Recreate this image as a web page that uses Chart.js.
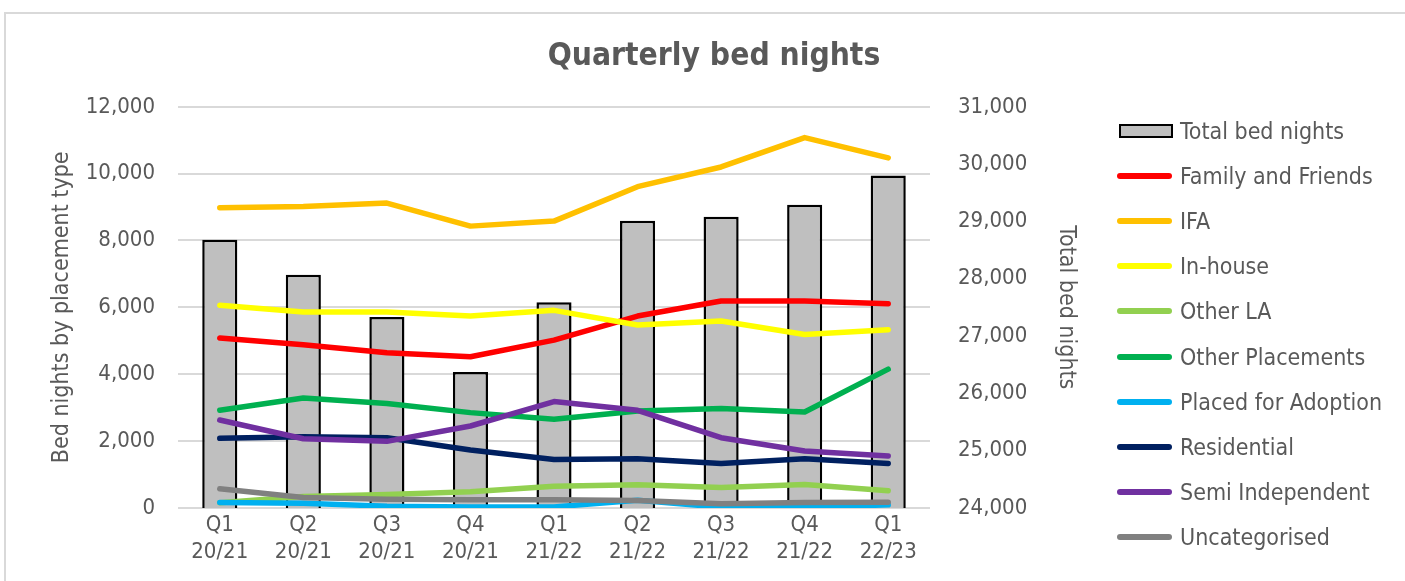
<!DOCTYPE html>
<html lang="en">
<head>
    <meta charset="UTF-8">
    <title>Quarterly bed nights</title>
    <script src="https://cdn.jsdelivr.net/npm/chart.js"></script>
    <style>
        html, body { margin: 0; padding: 0; background: #fff; overflow: hidden; }
        .frame {
            position: absolute; left: 4px; top: 12px; width: 1420px; height: 600px;
            border-top: 2px solid #d9d9d9; border-left: 2px solid #d9d9d9;
        }
        #chart { position: absolute; left: 6px; top: 15px; }
        #legend {
            position: absolute; left: 1116px; top: 108.5px;
            font-family: 'DejaVu Sans Condensed', 'DejaVu Sans', sans-serif;
            font-size: 23px; color: #595959;
        }
        #legend .item { height: 45.1px; display: flex; align-items: center; white-space: nowrap; }
        #legend .sym { width: 57px; margin-right: 7px; display: flex; align-items: center; justify-content: center; }
        #legend .line { width: 55px; height: 6px; border-radius: 3px; }
        #legend .box { width: 50px; height: 10px; background: #bfbfbf; border: 2px solid #000; margin-left: 3px; }
    </style>
</head>
<body>
    <div class="frame"></div>
    <canvas id="chart" width="1400" height="566"></canvas>
    <div id="legend"></div>
    <script>
        const quarters = ['Q1', 'Q2', 'Q3', 'Q4', 'Q1', 'Q2', 'Q3', 'Q4', 'Q1'];
        const years = ['20/21', '20/21', '20/21', '20/21', '21/22', '21/22', '21/22', '21/22', '22/23'];

        const totalBedNights = [28680, 28070, 27330, 26370, 27590, 29010, 29080, 29290, 29800];
        const familyAndFriends = [5080, 4880, 4640, 4520, 5020, 5740, 6190, 6190, 6110];
        const ifa = [8980, 9020, 9120, 8430, 8580, 9610, 10200, 11080, 10470];
        const inHouse = [6060, 5860, 5860, 5740, 5910, 5470, 5590, 5190, 5330];
        const otherLA = [150, 340, 400, 480, 650, 690, 610, 700, 510];
        const otherPlacements = [2920, 3290, 3120, 2850, 2650, 2900, 2970, 2870, 4150];
        const placedForAdoption = [160, 140, 50, 30, 30, 230, 20, 20, 90];
        const residential = [2080, 2130, 2100, 1730, 1450, 1470, 1330, 1470, 1330];
        const semiIndependent = [2630, 2070, 1990, 2450, 3180, 2920, 2100, 1700, 1550];
        const uncategorised = [570, 310, 260, 240, 240, 220, 120, 160, 170];

        const leftTicks = [0, 2000, 4000, 6000, 8000, 10000, 12000];
        const rightTicks = [24000, 25000, 26000, 27000, 28000, 29000, 30000, 31000];

        const lineSeries = [
            ['Family and Friends', familyAndFriends, '#ff0000'],
            ['IFA', ifa, '#ffc000'],
            ['In-house', inHouse, '#ffff00'],
            ['Other LA', otherLA, '#92d050'],
            ['Other Placements', otherPlacements, '#00b050'],
            ['Placed for Adoption', placedForAdoption, '#00b0f0'],
            ['Residential', residential, '#002060'],
            ['Semi Independent', semiIndependent, '#7030a0'],
            ['Uncategorised', uncategorised, '#808080']
        ];

        Chart.defaults.font.family = "'DejaVu Sans Condensed', 'DejaVu Sans', sans-serif";
        Chart.defaults.color = '#595959';

        const datasets = [{
            type: 'bar',
            label: 'Total bed nights',
            data: totalBedNights,
            yAxisID: 'y1',
            backgroundColor: '#bfbfbf',
            borderColor: '#000000',
            borderWidth: 2.5,
            barPercentage: 0.42,
            categoryPercentage: 1.0,
            order: 20
        }];
        lineSeries.forEach((s, i) => {
            datasets.push({
                type: 'line',
                label: s[0],
                data: s[1],
                yAxisID: 'y',
                borderColor: s[2],
                backgroundColor: s[2],
                borderWidth: 5.5,
                borderJoinStyle: 'round',
                borderCapStyle: 'round',
                pointRadius: 0,
                tension: 0,
                order: 10 - i   // later series drawn on top
            });
        });

        const chart = new Chart(document.getElementById('chart'), {
            data: {
                labels: quarters.map((q, i) => [q, years[i]]),
                datasets: datasets
            },
            options: {
                responsive: false,
                animation: false,
                // right padding kept small so the title centres over the whole picture;
                // the right axis box is widened to leave room for the legend
                layout: { padding: { left: 30, right: 14, top: 0, bottom: 12 } },
                scales: {
                    x: {
                        grid: { display: false, drawTicks: false },
                        border: { display: false },
                        ticks: { padding: 3.5, maxRotation: 0, autoSkip: false, font: { size: 22, lineHeight: 1.23 } }
                    },
                    y: {
                        position: 'left',
                        min: leftTicks[0],
                        max: leftTicks[leftTicks.length - 1],
                        grid: { color: '#d9d9d9', lineWidth: 2, drawTicks: false },
                        border: { display: false },
                        ticks: { stepSize: leftTicks[1] - leftTicks[0], padding: 23, font: { size: 22 } },
                        title: {
                            display: true,
                            text: 'Bed nights by placement type',
                            font: { size: 23 },
                            padding: { top: 12, bottom: 10 }
                        },
                        afterFit(scale) { scale.width = 142; }
                    },
                    y1: {
                        position: 'right',
                        min: rightTicks[0],
                        max: rightTicks[rightTicks.length - 1],
                        grid: { display: false, drawTicks: false },
                        border: { display: false },
                        ticks: { stepSize: rightTicks[1] - rightTicks[0], padding: 28, font: { size: 22 } },
                        title: {
                            display: true,
                            text: 'Total bed nights',
                            font: { size: 23 },
                            padding: { top: 312, bottom: 20 }
                        },
                        afterFit(scale) { scale.width = 462; }
                    }
                },
                plugins: {
                    title: {
                        display: true,
                        text: 'Quarterly bed nights',
                        color: '#595959',
                        font: { size: 31.5, weight: 'bold' },
                        padding: { top: 22.5, bottom: 31.5 }
                    },
                    legend: { display: false },
                    tooltip: { enabled: false }
                }
            }
        });

        // legend built from the chart's datasets, in dataset order
        const legend = document.getElementById('legend');
        chart.data.datasets.forEach(ds => {
            const item = document.createElement('div');
            item.className = 'item';
            const sym = document.createElement('div');
            sym.className = 'sym';
            const mark = document.createElement('div');
            if (ds.type === 'bar') {
                mark.className = 'box';
            } else {
                mark.className = 'line';
                mark.style.background = ds.borderColor;
            }
            sym.appendChild(mark);
            const text = document.createElement('span');
            text.textContent = ds.label;
            item.appendChild(sym);
            item.appendChild(text);
            legend.appendChild(item);
        });
    </script>
</body>
</html>
